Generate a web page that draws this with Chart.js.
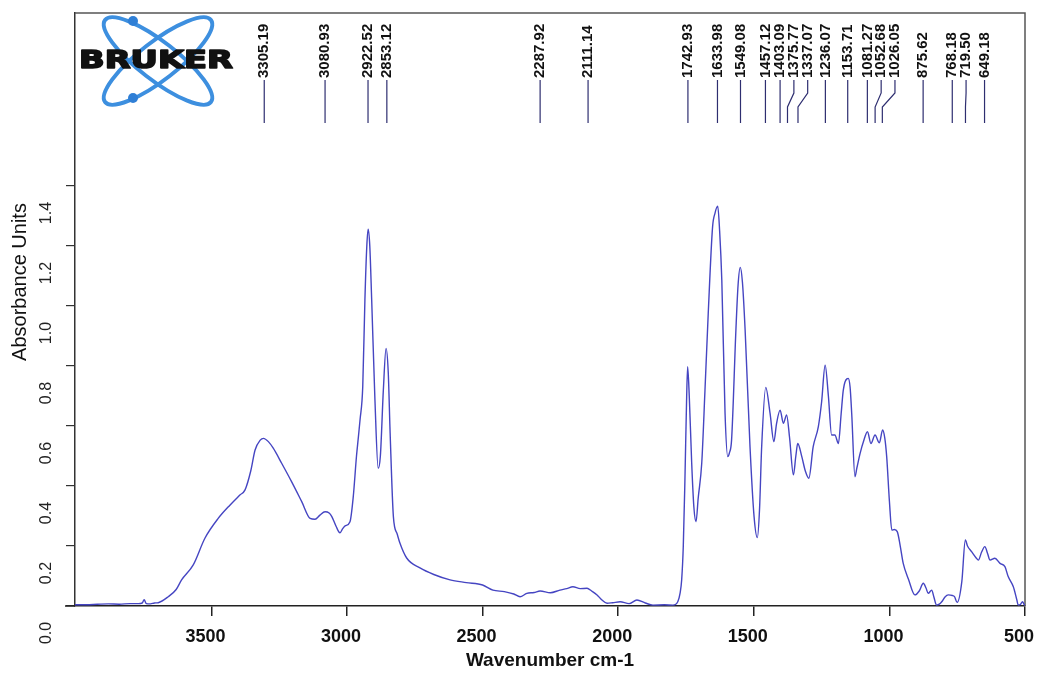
<!DOCTYPE html>
<html>
<head>
<meta charset="utf-8">
<script src="https://cdn.jsdelivr.net/npm/chart.js@4.4.1/dist/chart.umd.min.js"></script>
<style>
  html, body { margin: 0; padding: 0; background: #fff; }
</style>
</head>
<body>
<canvas id="irSpectrum" width="1037" height="675"></canvas>
<script>
// spectrum, left (high wavenumber) to right
const wavenumbers = [
  4003, 3960, 3920, 3880, 3840, 3800, 3770, 3755, 3748, 3740, 3725, 3710, 3696, 3659, 3630, 3610,
  3567, 3524, 3475, 3431, 3395, 3376, 3355, 3339, 3320, 3308, 3290, 3272, 3241, 3204, 3167, 3136,
  3118, 3100, 3081, 3066, 3056, 3040, 3026, 3016, 3007, 2989, 2977, 2965, 2958, 2952, 2942, 2934,
  2927, 2922, 2916, 2909, 2897, 2885, 2877, 2866, 2856, 2848, 2841, 2829, 2815, 2805, 2780, 2731,
  2680, 2620, 2560, 2500, 2462, 2420, 2385, 2362, 2337, 2310, 2288, 2250, 2215, 2190, 2167, 2140,
  2115, 2098, 2078, 2060, 2041, 2020, 1993, 1960, 1931, 1900, 1872, 1830, 1798, 1780, 1772, 1766,
  1760, 1754, 1748, 1744, 1738, 1729, 1721, 1713, 1705, 1692, 1680, 1668, 1652, 1643, 1633, 1626,
  1618, 1606, 1596, 1590, 1582, 1566, 1558, 1550, 1542, 1532, 1514, 1499, 1487, 1479, 1471, 1456,
  1440, 1426, 1416, 1403, 1391, 1379, 1368, 1354, 1345, 1338, 1323, 1310, 1297, 1281, 1262, 1250,
  1237, 1225, 1213, 1201, 1188, 1178, 1170, 1152, 1145, 1139, 1127, 1120, 1108, 1095, 1081, 1068,
  1053, 1037, 1025, 1017, 1010, 1000, 991, 982, 971, 960, 949, 930, 906, 890, 875, 865,
  857, 844, 836, 826, 816, 807, 795, 783, 768, 760, 750, 733, 720, 712, 697, 680,
  672, 660, 648, 638, 629, 611, 592, 574, 562, 543, 530, 525, 517, 509, 503, 500
];
const absorbance = [
  0.004, 0.004, 0.006, 0.007, 0.006, 0.008, 0.008, 0.010, 0.021, 0.008, 0.007, 0.010, 0.011, 0.031, 0.055, 0.087,
  0.137, 0.226, 0.292, 0.337, 0.370, 0.387, 0.450, 0.520, 0.553, 0.559, 0.548, 0.526, 0.476, 0.414, 0.348, 0.292,
  0.289, 0.303, 0.314, 0.310, 0.298, 0.265, 0.244, 0.258, 0.267, 0.281, 0.364, 0.500, 0.564, 0.620, 0.731, 1.020,
  1.200, 1.256, 1.200, 1.020, 0.687, 0.459, 0.500, 0.720, 0.859, 0.780, 0.577, 0.298, 0.240, 0.210, 0.160, 0.127,
  0.105, 0.087, 0.078, 0.070, 0.053, 0.048, 0.040, 0.031, 0.042, 0.045, 0.050, 0.044, 0.053, 0.058, 0.064, 0.058,
  0.059, 0.050, 0.037, 0.020, 0.009, 0.011, 0.014, 0.008, 0.020, 0.010, 0.003, 0.004, 0.003, 0.015, 0.042, 0.087,
  0.200, 0.420, 0.680, 0.798, 0.700, 0.476, 0.330, 0.281, 0.360, 0.476, 0.720, 0.976, 1.264, 1.310, 1.333, 1.250,
  1.087, 0.642, 0.498, 0.510, 0.553, 0.920, 1.070, 1.129, 1.080, 0.920, 0.531, 0.298, 0.228, 0.320, 0.531, 0.729,
  0.642, 0.548, 0.609, 0.653, 0.609, 0.637, 0.560, 0.437, 0.500, 0.542, 0.498, 0.450, 0.426, 0.531, 0.598, 0.680,
  0.803, 0.700, 0.570, 0.570, 0.542, 0.640, 0.720, 0.759, 0.730, 0.642, 0.431, 0.460, 0.509, 0.550, 0.581, 0.542,
  0.570, 0.544, 0.587, 0.560, 0.498, 0.350, 0.253, 0.255, 0.248, 0.200, 0.142, 0.090, 0.037, 0.050, 0.076, 0.060,
  0.042, 0.053, 0.030, 0.003, 0.006, 0.014, 0.030, 0.037, 0.035, 0.031, 0.012, 0.081, 0.220, 0.200, 0.181, 0.160,
  0.153, 0.180, 0.198, 0.175, 0.153, 0.159, 0.142, 0.131, 0.098, 0.064, 0.020, 0.003, 0.005, 0.014, 0.005, 0.003
];
const peakLabels = [
  3305.19, 3080.93, 2922.52, 2853.12, 2287.92, 2111.14, 1742.93, 1633.98, 1549.08, 1457.12, 1403.09,
  1375.77, 1337.07, 1236.07, 1153.71, 1081.27, 1052.68, 1026.05, 875.62, 768.18, 719.50, 649.18
];
const xTicks = [3500, 3000, 2500, 2000, 1500, 1000, 500];
const yTicks = [0, 0.2, 0.4, 0.6, 0.8, 1.0, 1.2, 1.4];

const decorations = {
  id: "decorations",
  beforeDatasetsDraw(chart) {
    const { ctx, chartArea: a } = chart;
    ctx.save();
    // top and right side of the frame, plus the little stub left of the x axis
    ctx.strokeStyle = "#555";
    ctx.lineWidth = 1.5;
    ctx.beginPath();
    ctx.moveTo(a.left, a.top);
    ctx.lineTo(a.right, a.top);
    ctx.lineTo(a.right, a.bottom);
    ctx.stroke();
    ctx.strokeStyle = "#222";
    ctx.beginPath();
    ctx.moveTo(a.left - 10, a.bottom);
    ctx.lineTo(a.left, a.bottom);
    ctx.stroke();

    // logo: two orbits, two dots, the name
    ctx.strokeStyle = "#3d8fdf";
    ctx.lineWidth = 4;
    [0.66, -0.66].forEach(r => {
      ctx.beginPath();
      ctx.ellipse(158, 61, 67, 19, r, 0, Math.PI * 2);
      ctx.stroke();
    });
    ctx.fillStyle = "#2f7fd6";
    [[133, 21], [133, 98]].forEach(([cx, cy]) => {
      ctx.beginPath();
      ctx.arc(cx, cy, 5, 0, Math.PI * 2);
      ctx.fill();
    });
    ctx.font = "bold 25px 'DejaVu Sans'";
    const w = ctx.measureText("BRUKER").width;
    ctx.translate(79, 68);
    ctx.scale(154 / w, 1);
    ctx.fillStyle = "#111";
    ctx.strokeStyle = "#111";
    ctx.lineWidth = 1.6;
    ctx.lineJoin = "round";
    ctx.textBaseline = "alphabetic";
    ctx.strokeText("BRUKER", 0, 0);
    ctx.fillText("BRUKER", 0, 0);
    ctx.restore();
  },
  afterDraw(chart) {
    const { ctx } = chart;
    const x = chart.scales.x;
    ctx.save();
    // peak picks, spread out where they crowd
    ctx.font = "bold 15px 'Liberation Sans'";
    ctx.fillStyle = "#111";
    ctx.strokeStyle = "#2e2e70";
    ctx.lineWidth = 1.2;
    ctx.textAlign = "left";
    ctx.textBaseline = "middle";
    let prev = -Infinity;
    peakLabels.map(v => ({ v, px: x.getPixelForValue(v) }))
      .sort((p, q) => p.px - q.px)
      .forEach(p => {
        const lx = Math.max(p.px, prev + 13.8);
        prev = lx;
        ctx.beginPath();
        ctx.moveTo(lx, 80);
        if (Math.abs(lx - p.px) > 0.5) {
          ctx.lineTo(lx, 93);
          ctx.lineTo(p.px, 107);
        }
        ctx.lineTo(p.px, 123);
        ctx.stroke();
        ctx.save();
        ctx.translate(lx, 78);
        ctx.rotate(-Math.PI / 2);
        ctx.fillText(p.v.toFixed(2), 0, 0);
        ctx.restore();
      });

    // y axis title
    ctx.font = "20px 'Liberation Sans'";
    ctx.fillStyle = "#111";
    ctx.textAlign = "center";
    ctx.translate(20, 282);
    ctx.rotate(-Math.PI / 2);
    ctx.fillText("Absorbance Units", 0, 0);
    ctx.restore();
  }
};

new Chart("irSpectrum", {
  type: "line",
  data: {
    datasets: [
      {
        label: "Absorbance",
        data: wavenumbers.map((w, i) => ({ x: w, y: absorbance[i] })),
        borderColor: "#4545c2",
        borderWidth: 1.4,
        pointRadius: 0,
        fill: false,
        cubicInterpolationMode: "monotone"
      }
    ]
  },
  options: {
    responsive: false,
    animation: false,
    layout: { padding: { top: 13, right: 12, left: 0, bottom: 0 } },
    plugins: {
      legend: { display: false },
      tooltip: { enabled: false }
    },
    scales: {
      x: {
        type: "linear",
        reverse: true,
        min: 500,
        max: 4003,
        afterBuildTicks: s => { s.ticks = xTicks.map(v => ({ value: v })); },
        afterFit: s => { s.height = 69; s.paddingLeft = 0; s.paddingRight = 0; },
        grid: { drawOnChartArea: false, drawTicks: true, tickLength: 10, color: "#222", lineWidth: 1.5 },
        border: { color: "#222", width: 1.5 },
        ticks: {
          font: { family: "Liberation Sans", size: 18, weight: "bold" },
          color: "#111",
          padding: 10,
          labelOffset: -6,
          maxRotation: 0,
          autoSkip: false,
          callback: v => String(v)
        },
        title: {
          display: true,
          text: "Wavenumber cm-1",
          font: { family: "Liberation Sans", size: 19, weight: "bold" },
          color: "#111",
          padding: { top: 0, bottom: 3 }
        }
      },
      y: {
        min: 0,
        max: 1.977,
        afterBuildTicks: s => { s.ticks = yTicks.map(v => ({ value: v })); },
        afterFit: s => { s.width = 75; s.paddingTop = 0; s.paddingBottom = 0; },
        grid: { drawOnChartArea: false, drawTicks: true, tickLength: 9, color: "#333", lineWidth: 1.2 },
        border: { color: "#333", width: 1.5 },
        ticks: {
          font: { family: "Liberation Sans", size: 16 },
          color: "#222",
          padding: 8,
          minRotation: 90,
          maxRotation: 90,
          crossAlign: "center",
          labelOffset: 27,
          autoSkip: false,
          callback: v => v.toFixed(1)
        }
      }
    }
  },
  plugins: [decorations]
});
</script>
</body>
</html>
